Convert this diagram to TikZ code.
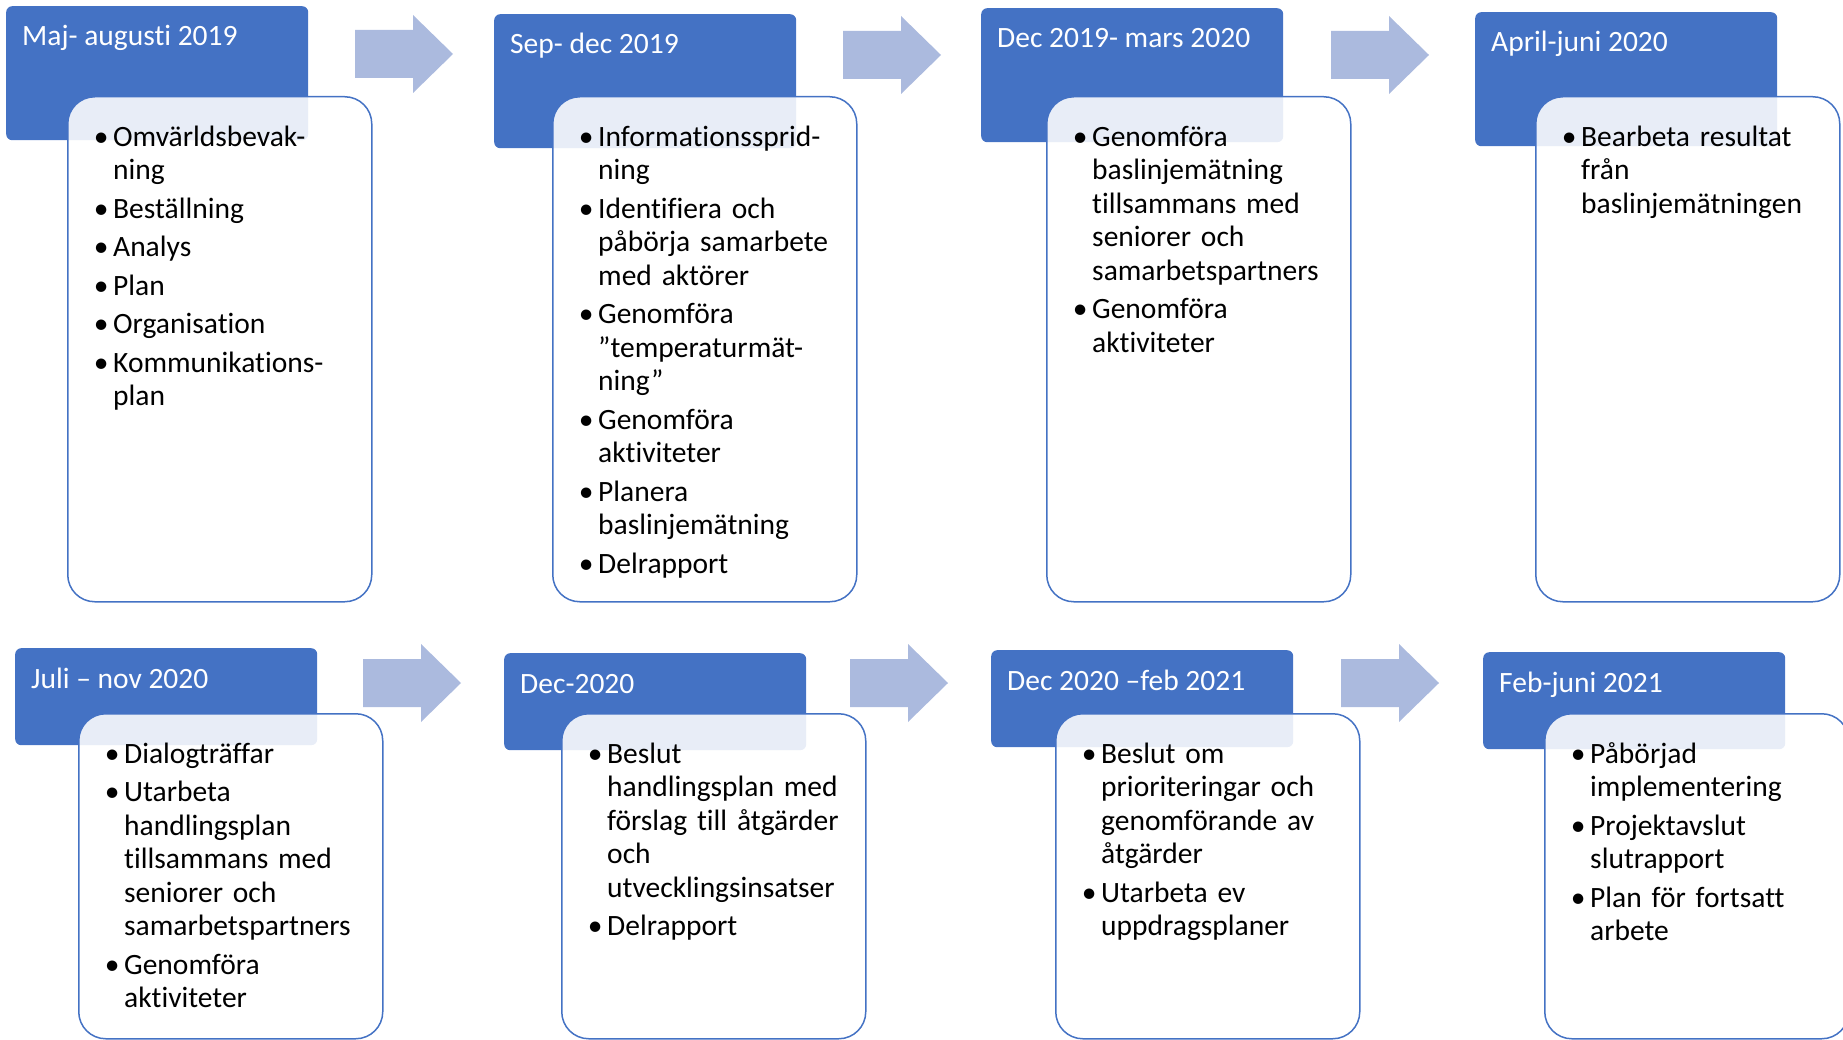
\documentclass[tikz,border=0pt]{standalone}
\usepackage{fontspec}
\setmainfont{Carlito}[Ligatures=NoCommon]
\usetikzlibrary{calc}
\definecolor{kopfblau}{RGB}{68,114,196}
\definecolor{pfeilblau}{RGB}{171,186,222}
\setlength{\parindent}{0pt}
\newcommand{\pkt}{\rule{0pt}{25pt}\llap{\makebox[24pt][c]{•}}}

\begin{document}
\begin{tikzpicture}[x=1pt, y=-1pt,
    kopf/.style={rectangle, fill=kopfblau, rounded corners=6pt, inner sep=0pt, anchor=north west, minimum width=302pt, minimum height=#1},
    kopf/.default=134pt,
    kopftext/.style={anchor=base west, inner sep=0pt, text=white, font=\fontsize{29.5}{34}\selectfont},
    feld/.style={rectangle, draw=kopfblau, line width=1.5pt, fill=white, fill opacity=0.88, rounded corners=27pt, inner sep=0pt, anchor=north west, minimum width=304pt, minimum height=#1},
    feld/.default=505pt,
    punkte/.style={anchor=north west, inner sep=0pt, text width=270pt, align=left, font=\fontsize{29.5}{33.5}\selectfont},
    pfeil/.pic={\fill[pfeilblau] (0,-24) -- (58,-24) -- (58,-39) -- (98,0) -- (58,39) -- (58,24) -- (0,24) -- cycle;}]

    \useasboundingbox (0,0) rectangle (1843,1040);

    % blue headers
    \node[kopf] (h1) at (6,6) {};
    \node[kopf] (h2) at (494,14) {};
    \node[kopf] (h3) at (981,8) {};
    \node[kopf] (h4) at (1475,12) {};
    \node[kopf=97pt] (h5) at (15,648) {};
    \node[kopf=97pt] (h6) at (504,653) {};
    \node[kopf=97pt] (h7) at (991,650) {};
    \node[kopf=97pt] (h8) at (1483,652) {};

    \node[kopftext] (k1) at ($(h1.north west)+(16,40)$) {Maj- augusti 2019};
    \node[kopftext] (k2) at ($(h2.north west)+(16,40)$) {Sep- dec 2019};
    \node[kopftext] (k3) at ($(h3.north west)+(16,40)$) {Dec 2019- mars 2020};
    \node[kopftext] (k4) at ($(h4.north west)+(16,40)$) {April-juni 2020};
    \node[kopftext] (k5) at ($(h5.north west)+(16,40)$) {Juli – nov 2020};
    \node[kopftext] (k6) at ($(h6.north west)+(16,40)$) {Dec-2020};
    \node[kopftext] (k7) at ($(h7.north west)+(16,40)$) {Dec 2020 –feb 2021};
    \node[kopftext] (k8) at ($(h8.north west)+(16,40)$) {Feb-juni 2021};

    % arrows
    \pic at (355,54) {pfeil};
    \pic at (843,55) {pfeil};
    \pic at (1331,55) {pfeil};
    \pic at (363,683) {pfeil};
    \pic at (850,683) {pfeil};
    \pic at (1341,683) {pfeil};

    % white boxes
    \node[feld] (f1) at (67,96) {};
    \node[feld] (f2) at (552,96) {};
    \node[feld] (f3) at (1046,96) {};
    \node[feld] (f4) at (1535,96) {};
    \node[feld=325pt] (f5) at (78,713) {};
    \node[feld=325pt] (f6) at (561,713) {};
    \node[feld=325pt] (f7) at (1055,713) {};
    \node[feld=325pt] (f8) at (1544,713) {};

    \node[punkte] (t1) at ($(f1.north west)+(46,25)$) {\pkt Omvärldsbevak-\\ning\\[5pt]\pkt Beställning\\[5pt]\pkt Analys\\[5pt]\pkt Plan\\[5pt]\pkt Organisation\\[5pt]\pkt Kommunikations-\\plan};
    \node[punkte] (t2) at ($(f2.north west)+(46,25)$) {\pkt Informationssprid-\\ning\\[5pt]\pkt Identifiera och\\påbörja samarbete\\med aktörer\\[5pt]\pkt Genomföra\\”temperaturmät-\\ning”\\[5pt]\pkt Genomföra\\aktiviteter\\[5pt]\pkt Planera\\baslinjemätning\\[5pt]\pkt Delrapport};
    \node[punkte] (t3) at ($(f3.north west)+(46,25)$) {\pkt Genomföra\\baslinjemätning\\tillsammans med\\seniorer och\\samarbetspartners\\[5pt]\pkt Genomföra\\aktiviteter};
    \node[punkte] (t4) at ($(f4.north west)+(46,25)$) {\pkt Bearbeta resultat\\från\\baslinjemätningen};
    \node[punkte] (t5) at ($(f5.north west)+(46,25)$) {\pkt Dialogträffar\\[5pt]\pkt Utarbeta\\handlingsplan\\tillsammans med\\seniorer och\\samarbetspartners\\[5pt]\pkt Genomföra\\aktiviteter};
    \node[punkte] (t6) at ($(f6.north west)+(46,25)$) {\pkt Beslut\\handlingsplan med\\förslag till åtgärder\\och\\utvecklingsinsatser\\[5pt]\pkt Delrapport};
    \node[punkte] (t7) at ($(f7.north west)+(46,25)$) {\pkt Beslut om\\prioriteringar och\\genomförande av\\åtgärder\\[5pt]\pkt Utarbeta ev\\uppdragsplaner};
    \node[punkte] (t8) at ($(f8.north west)+(46,25)$) {\pkt Påbörjad\\implementering\\[5pt]\pkt Projektavslut\\slutrapport\\[5pt]\pkt Plan för fortsatt\\arbete};

\end{tikzpicture}
\end{document}
